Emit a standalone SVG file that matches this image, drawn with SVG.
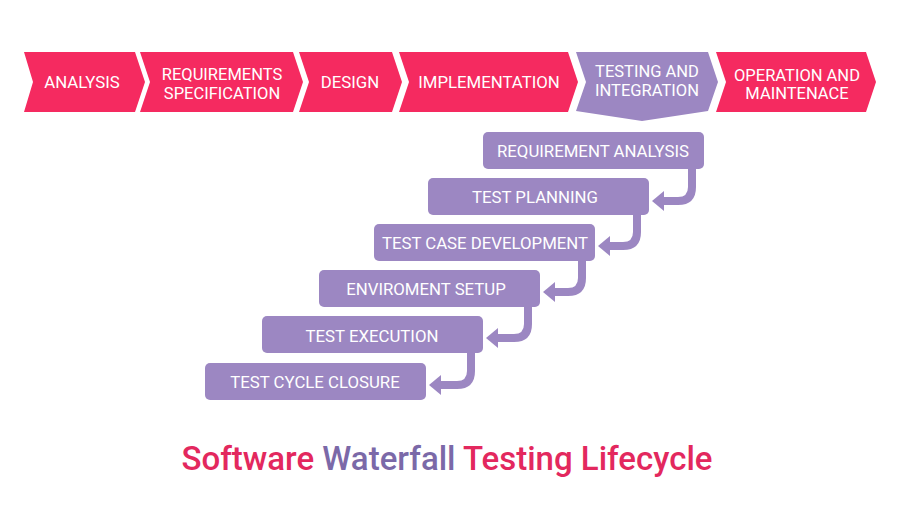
<svg xmlns="http://www.w3.org/2000/svg" width="900" height="506" viewBox="0 0 900 506">
<style>
.pink{fill:#F52A60}
.purp{fill:#9C87C2}
.t{font-family:Roboto,"Liberation Sans",sans-serif;font-size:16.8px;fill:#ffffff;text-anchor:middle}
.t2{font-family:Roboto,"Liberation Sans",sans-serif;font-size:16.5px;fill:#ffffff;text-anchor:middle}
.title{font-family:Roboto,"Liberation Sans",sans-serif;font-size:33px;font-weight:500;text-anchor:middle}
.conn{fill:none;stroke:#9C87C2;stroke-width:8}
.head{fill:#9C87C2}
</style>
<rect width="900" height="506" fill="#ffffff"/>
<g id="phase-analysis">
<polygon class="pink" points="24,52 135,52 145,82 135,112 24,112 33,82"/>
<text class="t" x="82" y="88">ANALYSIS</text>
</g>
<g id="phase-requirements">
<polygon class="pink" points="140,52 293,52 303,82 293,112 140,112 150,82"/>
<text class="t2" x="222" y="80">REQUIREMENTS</text>
<text class="t2" x="222" y="99">SPECIFICATION</text>
</g>
<g id="phase-design">
<polygon class="pink" points="299,52 392,52 402,82 392,112 299,112 309,82"/>
<text class="t" x="350" y="88">DESIGN</text>
</g>
<g id="phase-implementation">
<polygon class="pink" points="399,52 568,52 578,82 568,112 399,112 409,82"/>
<text class="t" x="489" y="88">IMPLEMENTATION</text>
</g>
<g id="phase-testing">
<polygon class="purp" points="576,52 708,52 718,82 708,111 642,121 576,111 586,82"/>
<text class="t2" x="647" y="77">TESTING AND</text>
<text class="t2" x="647" y="96">INTEGRATION</text>
</g>
<g id="phase-operation">
<polygon class="pink" points="716,52 866,52 876,82 866,112 716,112 726,82"/>
<text class="t2" x="797" y="81">OPERATION AND</text>
<text class="t2" x="797" y="99">MAINTENACE</text>
</g>
<g id="connectors">
<path class="conn" d="M692,166 V187 Q692,201 678,201 H660"/>
<polygon class="head" points="652,201 664,191 664,211"/>
<path class="conn" d="M637,212 V232 Q637,246 623,246 H606"/>
<polygon class="head" points="598,246 610,236 610,256"/>
<path class="conn" d="M582,258 V278 Q582,292 568,292 H551"/>
<polygon class="head" points="543,292 555,282 555,302"/>
<path class="conn" d="M528,304 V324 Q528,338 514,338 H494"/>
<polygon class="head" points="486,338 498,328 498,348"/>
<path class="conn" d="M471,350 V371 Q471,385 457,385 H437"/>
<polygon class="head" points="429,385 441,375 441,395"/>
</g>
<g id="step-requirement-analysis">
<rect class="purp" x="483" y="132" width="221" height="37" rx="5"/>
<text class="t" x="593" y="157">REQUIREMENT ANALYSIS</text>
</g>
<g id="step-test-planning">
<rect class="purp" x="428" y="178" width="221" height="37" rx="5"/>
<text class="t" x="535" y="203">TEST PLANNING</text>
</g>
<g id="step-test-case-development">
<rect class="purp" x="374" y="224" width="221" height="37" rx="5"/>
<text class="t" x="485" y="249">TEST CASE DEVELOPMENT</text>
</g>
<g id="step-environment-setup">
<rect class="purp" x="319" y="270" width="221" height="37" rx="5"/>
<text class="t" x="426" y="295">ENVIROMENT SETUP</text>
</g>
<g id="step-test-execution">
<rect class="purp" x="262" y="316" width="221" height="37" rx="5"/>
<text class="t" x="372" y="342">TEST EXECUTION</text>
</g>
<g id="step-test-cycle-closure">
<rect class="purp" x="205" y="363" width="221" height="37" rx="5"/>
<text class="t" x="315" y="388">TEST CYCLE CLOSURE</text>
</g>
<text class="title" x="447" y="470"><tspan fill="#E3285E">Software </tspan><tspan fill="#7B69A8">Waterfall</tspan><tspan fill="#E3285E"> Testing Lifecycle</tspan></text>
</svg>
